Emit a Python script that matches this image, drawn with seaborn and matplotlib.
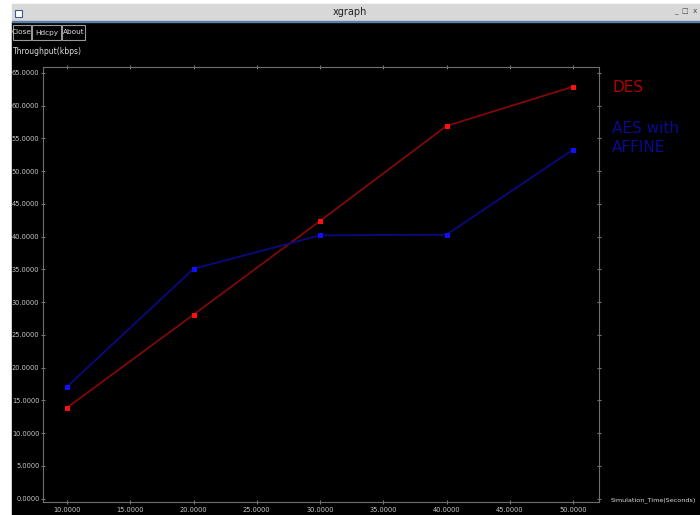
import pandas as pd
import matplotlib.pyplot as plt
import matplotlib.patches as mpatches
import seaborn as sns

# data
sim_time = [10, 20, 30, 40, 50]
des = [13.9, 28.1, 42.4, 56.9, 62.9]
aes_affine = [17.1, 35.1, 40.2, 40.3, 53.3]
series_names = ["DES", "AES with\nAFFINE"]
xticks = [10, 15, 20, 25, 30, 35, 40, 45, 50]
yticks = [0, 5, 10, 15, 20, 25, 30, 35, 40, 45, 50, 55, 60, 65]

df = pd.DataFrame({
    "time": sim_time * 2,
    "tp": des + aes_affine,
    "series": [series_names[0]] * 5 + [series_names[1]] * 5,
})

sns.set_style("dark")
plt.rcParams["font.family"] = ["Liberation Sans Narrow", "DejaVu Sans"]

fig = plt.figure(figsize=(7, 5.15), dpi=100, facecolor="white")
W, H = 700, 515

def fx(x):
    return x / W

def fy(y):
    return 1 - y / H

def box(x0, y0, w, h, z, **kw):
    # rectangle in pixel coords (top-left origin)
    fig.patches.append(mpatches.Rectangle((fx(x0), fy(y0 + h)), w / W, h / H,
                                          transform=fig.transFigure, zorder=z, **kw))

# window frame
box(12, 22, 688, 493, -3, color="black")
box(12, 4, 688, 17, -3, color="#d8d8d8")
box(12, 21, 688, 1.2, -2, color="#5a7fa8")
box(15, 10, 7, 7, -2, facecolor="white", edgecolor="#3a5a90", lw=0.8)
fig.text(fx(350), fy(12), "xgraph", ha="center", va="center", fontsize=7, color="#222222")
fig.text(fx(686), fy(12), "_  \u25a1  x", ha="center", va="center", fontsize=5, color="#444444")

# buttons
for label, x0, x1 in [("Close", 13, 31), ("Hdcpy", 32, 61), ("About", 62, 85)]:
    box(x0, 25, x1 - x0, 15, -2, facecolor="black", edgecolor="#9a9a9a", lw=0.8)
    fig.text(fx((x0 + x1) / 2), fy(32.5), label, ha="center", va="center",
             fontsize=5.3, color="#dddddd")

fig.text(fx(13), fy(52), "Throughput(kbps)", ha="left", va="center", fontsize=5.5, color="#dddddd")
fig.text(fx(611), fy(500), "Simulation_Time(Seconds)", ha="left", va="center",
         fontsize=4.6, color="#dddddd")

ax = fig.add_axes([fx(43), fy(502), (599 - 43) / W, (502 - 67) / H])
ax.set_facecolor("black")

sns.lineplot(data=df, x="time", y="tp", hue="series", style="series",
             palette={series_names[0]: "#800808", series_names[1]: "#0a0a80"},
             markers={series_names[0]: "s", series_names[1]: "s"},
             dashes=False, markersize=3.5, linewidth=1.3, legend=False, ax=ax)
# brighter marker faces as in xgraph
for line, mc in zip(ax.lines, ["#ff1010", "#1010ff"]):
    line.set_markerfacecolor(mc)
    line.set_markeredgecolor(mc)

ax.set_xlim(8.1, 52.05)
ax.set_ylim(-0.5, 65.9)
ax.set_xticks(xticks)
ax.set_yticks(yticks)
ax.set_xticklabels([f"{v:.4f}" for v in xticks])
ax.set_yticklabels([f"{v:.4f}" for v in yticks])
ax.set_xlabel("")
ax.set_ylabel("")
ax.grid(False)
ax.tick_params(axis="both", colors="#777777", labelcolor="#c8c8c8", labelsize=4.8,
               length=3, width=0.8, direction="inout", top=True, right=True,
               bottom=True, left=True, pad=1)
ax.tick_params(axis="x", pad=2)
for sp in ax.spines.values():
    sp.set_visible(True)
    sp.set_color("#6e6e6e")
    sp.set_linestyle((0, (1, 1)))
    sp.set_linewidth(0.8)

fig.text(fx(612), fy(87), series_names[0], ha="left", va="center", fontsize=11,
         color="#b00000", family=["DejaVu Sans"])
fig.text(fx(612), fy(138), series_names[1], ha="left", va="center", fontsize=11,
         color="#0a0a90", family=["DejaVu Sans"], linespacing=1.35)

fig.savefig("out.png", dpi=100, facecolor="white")
